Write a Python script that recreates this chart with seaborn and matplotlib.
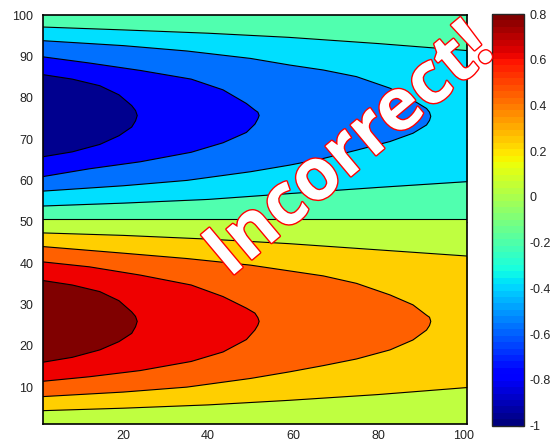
import matplotlib
matplotlib.use("Agg")
import matplotlib.pyplot as plt
import seaborn as sns
from matplotlib import patheffects as pe

# ------------------------------------------------------------
# Contour boundaries (data units)
# ------------------------------------------------------------
# full-width lines (level -0.2 pair, 0, level 0.2 pair)
x_full = [1, 20, 40, 59, 80, 101]
neg02_top = [97.1, 96.4, 95.6, 94.6, 93.1, 91.4]
neg02_bot = [53.8, 54.5, 55.4, 56.8, 58.3, 59.7]
pos02_top = [47.3, 46.7, 45.8, 44.7, 43.2, 41.7]
pos02_bot = [4.3, 4.9, 5.7, 6.8, 8.2, 9.9]
x_zero = [1, 101]
y_zero = [50.6, 50.6]

# tongues of level +-0.4 (open to the left edge, tip on the right)
x_out = [1, 20, 35, 50, 59.2, 67.1, 74.9, 82.8, 88.2, 91.4, 92.1, 92.4]
neg04_up = [93.8, 92.6, 91.3, 89.5, 87.9, 86.7, 85.1, 82.3, 79.4, 77.4, 76.5, 75.5]
neg04_lo = [57.4, 58.7, 60.0, 62.1, 63.7, 65.3, 67.3, 69.4, 71.4, 73.4, 74.5, 75.5]
pos04_up = [44.0, 42.4, 41.1, 39.5, 38.1, 36.9, 35.1, 32.3, 29.9, 27.4, 26.9, 25.9]
pos04_lo = [7.7, 8.8, 10.0, 12.1, 13.7, 15.2, 16.8, 19.0, 21.4, 23.8, 24.9, 25.9]

# tongues of level +-0.6
x_mid = [1, 12, 24, 36, 43.5, 49, 51, 51.7, 52]
neg06_up = [89.9, 88.4, 86.6, 84.5, 81.9, 78.6, 77.0, 76.5, 75.7]
neg06_lo = [60.9, 62.8, 64.5, 66.8, 69.1, 71.6, 73.6, 74.9, 75.7]
pos06_up = [40.3, 39.1, 37.1, 34.7, 31.9, 29.1, 27.9, 26.8, 25.9]
pos06_lo = [11.4, 12.5, 14.0, 16.2, 18.5, 21.5, 23.8, 25.0, 25.9]

# tongues of level +-0.8
x_in = [1, 8, 14.5, 19, 22, 22.9, 23.3]
neg08_up = [85.6, 84.5, 82.9, 80.7, 78.1, 76.9, 75.7]
neg08_lo = [65.7, 66.9, 68.7, 70.8, 72.9, 74.4, 75.7]
pos08_up = [35.8, 34.7, 33.1, 30.9, 28.2, 27.1, 25.9]
pos08_lo = [16.0, 17.2, 19.0, 21.0, 23.0, 24.6, 25.9]

cbar_ticks = [-1, -0.8, -0.6, -0.4, -0.2, 0, 0.2, 0.4, 0.6, 0.8]
cbar_labels = ["-1", "-0.8", "-0.6", "-0.4", "-0.2", "0", "0.2", "0.4", "0.6", "0.8"]
x_ticks = [20, 40, 60, 80, 100]
y_ticks = [10, 20, 30, 40, 50, 60, 70, 80, 90, 100]

# band colours (MATLAB jet, 64 steps)
band = {
    "navy": "#00008F", "blue": "#0000FF", "mblue": "#0070FF", "cyan": "#00DFFF",
    "aqua": "#50FFAF", "lime": "#BFFF40", "gold": "#FFCF00", "orange": "#FF6000",
    "red": "#EF0000", "dred": "#800000",
}

sns.set_style("white")
plt.rcParams["font.family"] = ["Liberation Sans Narrow", "Liberation Sans", "DejaVu Sans"]
plt.rcParams["axes.unicode_minus"] = False

fig = plt.figure(figsize=(5.52, 4.42), dpi=100)
ax = fig.add_axes([0.0770, 0.0400, 0.7696, 0.9260])

# base regions
ax.fill_between(x_zero, y_zero, [100, 100], color=band["aqua"], lw=0)
ax.fill_between(x_zero, [1, 1], y_zero, color=band["lime"], lw=0)
ax.fill_between(x_full, neg02_bot, neg02_top, color=band["cyan"], lw=0)
ax.fill_between(x_full, pos02_bot, pos02_top, color=band["gold"], lw=0)

tongues = [
    (x_out, neg04_up, neg04_lo, band["mblue"]),
    (x_mid, neg06_up, neg06_lo, band["blue"]),
    (x_in, neg08_up, neg08_lo, band["navy"]),
    (x_out, pos04_up, pos04_lo, band["orange"]),
    (x_mid, pos06_up, pos06_lo, band["red"]),
    (x_in, pos08_up, pos08_lo, band["dred"]),
]
for xs, up, lo, col in tongues:
    ax.fill(xs + xs[::-1], up + lo[::-1], color=col, lw=0)

# contour lines
line_kw = dict(color="black", linewidth=0.8, sort=False, estimator=None, ax=ax)
for ys in [neg02_top, neg02_bot, pos02_top, pos02_bot]:
    sns.lineplot(x=x_full, y=ys, **line_kw)
sns.lineplot(x=x_zero, y=y_zero, **line_kw)
for xs, up, lo, col in tongues:
    sns.lineplot(x=xs + xs[::-1][1:], y=up + lo[::-1][1:], **line_kw)

ax.set_xlim(1, 101)
ax.set_ylim(1, 100)
ax.set_xticks(x_ticks)
ax.set_yticks(y_ticks)
ax.tick_params(direction="in", length=4, width=0.8, top=True, right=True,
               labelsize=9, labelcolor="#222222")
ax.tick_params(axis="x", pad=4)
ax.tick_params(axis="y", pad=6.5)
for s in ax.spines.values():
    s.set_linewidth(1.2)
    s.set_color("black")

# colorbar
cax = fig.add_axes([0.8908, 0.0369, 0.0591, 0.9314])
sm = plt.cm.ScalarMappable(norm=plt.Normalize(-1, 0.8), cmap=plt.get_cmap("jet", 64))
cb = fig.colorbar(sm, cax=cax)
cb.set_ticks(cbar_ticks)
cb.set_ticklabels(cbar_labels)
cb.outline.set_linewidth(1.0)
cax.tick_params(direction="in", length=4, width=0.8, labelsize=9,
                labelcolor="#222222", pad=4)

fig.text(0.6576, 0.624, "Incorrect!", rotation=40, rotation_mode="anchor",
         ha="center", va="baseline", fontsize=52, fontweight="bold",
         family=["Open Sans", "DejaVu Sans"], color="white",
         path_effects=[pe.withStroke(linewidth=2, foreground="red")])

fig.savefig("out.png", dpi=100)
